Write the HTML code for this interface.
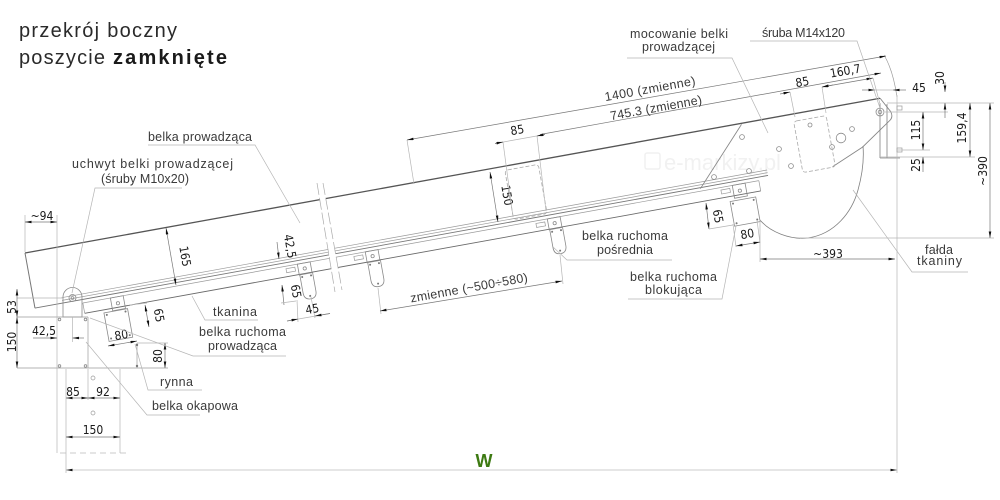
<!DOCTYPE html>
<html><head><meta charset="utf-8">
<style>
html,body{margin:0;padding:0;background:#fff;}
svg{display:block;}
.lb{font-family:"Liberation Sans","DejaVu Sans",sans-serif;font-size:12.5px;fill:#3a3a3a;}
.dm{font-family:"Liberation Sans Narrow","DejaVu Sans Condensed","Liberation Sans",sans-serif;font-size:12px;fill:#1a1a1a;text-anchor:middle;}
.g{stroke:#9a9a9a;stroke-width:.7;fill:none;}
.gl{stroke:#b5b5b5;stroke-width:.7;fill:none;}
.m{stroke:#808080;stroke-width:.8;fill:none;}
.d{stroke:#777;stroke-width:.7;fill:none;marker-start:url(#ar);marker-end:url(#ar);}
.de{stroke:#777;stroke-width:.7;fill:none;marker-end:url(#ar);}
.dot{fill:#777;}
.h{stroke:#8a8a8a;stroke-width:.8;fill:none;}
</style></head><body>
<svg width="1000" height="500" viewBox="0 0 1000 500" xmlns="http://www.w3.org/2000/svg">
<defs>
<marker id="ar" viewBox="0 0 10 4" refX="10" refY="2" markerWidth="7" markerHeight="2.6" markerUnits="userSpaceOnUse" orient="auto-start-reverse"><path d="M0,0 L10,2 L0,4 z" fill="#111"/></marker>
</defs>

<!-- watermark -->
<g opacity="0.9">
<rect x="645" y="153" width="15" height="16" rx="2" fill="none" stroke="#efefef" stroke-width="1.5"/>
<text x="664" y="170" font-family="Liberation Sans, sans-serif" font-size="22" fill="#f0f0f0">e-markizy.pl</text>
</g>

<!-- Title -->
<text x="19" y="37" font-family="Liberation Sans, sans-serif" font-size="20" fill="#2a2a2a" textLength="158" lengthAdjust="spacing">przekrój boczny</text>
<text x="19" y="64" font-family="Liberation Sans, sans-serif" font-size="20" fill="#2a2a2a" textLength="86" lengthAdjust="spacing">poszycie</text>
<text x="113" y="64" font-family="Liberation Sans, sans-serif" font-size="20" font-weight="bold" fill="#1a1a1a" textLength="114" lengthAdjust="spacing">zamknięte</text>

<!-- ===== Beam group (local coords) ===== -->
<g transform="translate(25,253) rotate(-10.26)" fill="none">
  <line x1="0" y1="0" x2="869" y2="0" stroke="#555" stroke-width="1.3"/>
  <line x1="0" y1="0" x2="0" y2="56" stroke="#777" stroke-width="1"/>
  <line x1="0" y1="56" x2="745" y2="56" stroke="#777" stroke-width=".9"/>
  <line x1="28" y1="50.5" x2="745" y2="50.5" class="g"/>
  <line x1="28" y1="53.2" x2="745" y2="53.2" class="g"/>
  <line x1="48" y1="59.5" x2="735" y2="59.5" class="g"/>
  <line x1="48" y1="70" x2="735" y2="70" stroke="#6a6a6a" stroke-width=".9"/>
  <line x1="48" y1="59.5" x2="48" y2="70" class="g"/>
  <line x1="735" y1="59.5" x2="735" y2="70" class="g"/>

  <!-- side plate (mocowanie) -->
  <path d="M676,57 L728,1 M869,0 L877,15 Q879,21 874,24 L843,45 L810,59" stroke="#888" stroke-width=".9"/>

  <!-- bracket 1 + box A -->
  <rect x="76" y="59.5" width="13" height="13" fill="#fff" class="h"/>
  <circle cx="82.5" cy="66" r="1.6" class="h"/>
  <rect x="67" y="73" width="24" height="29" fill="#fff" class="h"/>
  <circle cx="69.5" cy="75.5" r="1" class="dot"/><circle cx="88.5" cy="75.5" r="1" class="dot"/>
  <circle cx="69.5" cy="99.5" r="1" class="dot"/><circle cx="88.5" cy="99.5" r="1" class="dot"/>

  <!-- bracket 2 -->
  <rect x="254" y="62" width="9" height="4" class="g"/>
  <rect x="266" y="59.5" width="13" height="11" fill="#fff" class="h"/>
  <circle cx="272.5" cy="65" r="1.6" class="h"/>
  <path d="M266.5,70.5 L266.5,89 Q266.5,96 273,96 Q279.5,96 279.5,89 L279.5,70.5" fill="#fff" class="h"/>
  <circle cx="268.5" cy="73" r="1" class="dot"/><circle cx="277.5" cy="73" r="1" class="dot"/><circle cx="273" cy="93" r="1" class="dot"/>

  <!-- bracket 3 -->
  <rect x="323" y="62" width="9" height="4" class="g"/>
  <rect x="335" y="59.5" width="13" height="11" fill="#fff" class="h"/>
  <circle cx="341.5" cy="65" r="1.6" class="h"/>
  <path d="M335.5,70.5 L335.5,89 Q335.5,96 342,96 Q348.5,96 348.5,89 L348.5,70.5" fill="#fff" class="h"/>
  <circle cx="337.5" cy="73" r="1" class="dot"/><circle cx="346.5" cy="73" r="1" class="dot"/><circle cx="342" cy="93" r="1" class="dot"/>

  <!-- bracket 4 -->
  <rect x="508" y="62" width="9" height="4" class="g"/>
  <rect x="520" y="59.5" width="13" height="11" fill="#fff" class="h"/>
  <circle cx="526.5" cy="65" r="1.6" class="h"/>
  <path d="M520.5,70.5 L520.5,89 Q520.5,96 527,96 Q533.5,96 533.5,89 L533.5,70.5" fill="#fff" class="h"/>
  <circle cx="522.5" cy="73" r="1" class="dot"/><circle cx="531.5" cy="73" r="1" class="dot"/><circle cx="527" cy="93" r="1" class="dot"/>

  <!-- bracket 5 + box B -->
  <rect x="696" y="62" width="9" height="4" class="g"/>
  <rect x="708" y="59.5" width="13" height="13" fill="#fff" class="h"/>
  <circle cx="714.5" cy="66" r="1.6" class="h"/>
  <rect x="703" y="75" width="26" height="25" fill="#fff" class="h"/>
  <circle cx="705.5" cy="77.5" r="1" class="dot"/><circle cx="726.5" cy="77.5" r="1" class="dot"/>
  <circle cx="705.5" cy="97.5" r="1" class="dot"/><circle cx="726.5" cy="97.5" r="1" class="dot"/>
</g>

<!-- break in beam -->
<polygon points="317,183 323,183 342,290 335,290" fill="#fff"/>
<line x1="317" y1="183" x2="335" y2="292" stroke="#aaa" stroke-width=".7" stroke-dasharray="12 3"/>
<line x1="323" y1="183" x2="342" y2="290" stroke="#aaa" stroke-width=".7" stroke-dasharray="12 3"/>

<!-- plate holes -->
<g class="h">
<circle cx="742" cy="137" r="2.4"/><circle cx="779" cy="149" r="2.4"/><circle cx="749" cy="171" r="2.4"/>
<circle cx="714" cy="177" r="2.4"/><circle cx="791" cy="166" r="2.4"/><circle cx="810" cy="125" r="2"/>
<circle cx="852" cy="129" r="2.4"/><circle cx="832" cy="147" r="2.4"/><circle cx="841" cy="138" r="4.8"/>
<circle cx="880" cy="112" r="4"/><circle cx="880" cy="112" r="1.8"/>
</g>

<!-- hidden dashed brackets -->
<rect x="-17" y="-25" width="34" height="50" rx="3" transform="translate(526,192) rotate(-10.26)" fill="none" stroke="#aaa" stroke-width=".8" stroke-dasharray="4 2"/>
<rect x="-17" y="-26" width="33" height="52" rx="3" transform="translate(815,144) rotate(-10.26)" fill="none" stroke="#aaa" stroke-width=".8" stroke-dasharray="4 2"/>

<!-- fold curve -->
<path d="M760,220 C770,232 790,240 808,238 C835,234 852,212 858,190 C863,172 864,158 863,146" class="m"/>

<!-- right mount -->
<line x1="880" y1="103" x2="880" y2="158" class="m"/>
<line x1="887" y1="104" x2="887" y2="158" class="m"/>
<line x1="880" y1="158" x2="900" y2="158" class="m"/>
<path d="M884,55 Q893,70 897,97" class="g"/>
<line x1="897" y1="95" x2="897" y2="473" class="gl"/>
<rect x="897" y="106" width="5" height="4" class="g"/>
<rect x="897" y="148" width="5" height="4" class="g"/>
<line x1="887" y1="103" x2="994" y2="103" class="gl"/>
<line x1="885" y1="112" x2="948" y2="112" class="gl"/>
<line x1="897" y1="150" x2="930" y2="150" class="gl"/>
<line x1="880" y1="157" x2="975" y2="157" class="gl"/>
<line x1="800" y1="238" x2="994" y2="238" class="gl"/>

<!-- left hinge & mounting -->
<path d="M63,317 L63,297 A9.5,9.5 0 0 1 82,297 L82,317 Z" fill="#fff" class="h"/>
<circle cx="72.5" cy="298" r="3.5" class="h"/><circle cx="72.5" cy="298" r="1.4" class="h"/>
<line x1="17" y1="317" x2="88" y2="317" class="g"/>
<line x1="17" y1="368" x2="168" y2="368" class="g"/>
<line x1="17" y1="298" x2="63" y2="298" class="gl"/>
<line x1="57" y1="215" x2="57" y2="453" class="gl"/>
<line x1="25" y1="215" x2="25" y2="252" class="gl"/>
<line x1="88" y1="317" x2="88" y2="368" class="g"/>
<line x1="137" y1="343" x2="137" y2="368" class="g"/>
<line x1="72.5" y1="317" x2="72.5" y2="342" class="gl"/>
<circle cx="59.5" cy="319.5" r="1.3" class="h"/><circle cx="85.5" cy="319.5" r="1.3" class="h"/>
<circle cx="59.5" cy="366" r="1.3" class="h"/><circle cx="85.5" cy="366" r="1.3" class="h"/>
<circle cx="137" cy="345" r="1.2" class="dot"/><circle cx="137" cy="366" r="1.2" class="dot"/>

<!-- lower beam (okapowa) -->
<line x1="66" y1="369" x2="66" y2="473" class="gl"/>
<line x1="120" y1="369" x2="120" y2="453" class="gl"/>
<line x1="88" y1="369" x2="88" y2="400" class="gl"/>
<line x1="60" y1="453" x2="126" y2="453" stroke="#bbb" stroke-width=".7" stroke-dasharray="6 4"/>
<circle cx="93" cy="378" r="2" class="g"/><circle cx="93" cy="413" r="2" class="g"/>

<!-- ===== Dimensions ===== -->
<line x1="25" y1="222" x2="57" y2="222" class="d"/>
<text class="dm" x="42" y="220">~94</text>

<line x1="17" y1="289" x2="17" y2="317" class="d"/>
<text class="dm" transform="translate(16,307) rotate(-90)">53</text>
<line x1="17" y1="317" x2="17" y2="368" class="d"/>
<text class="dm" transform="translate(16,342) rotate(-90)">150</text>

<line x1="33" y1="338" x2="57" y2="338" class="de"/>
<line x1="84" y1="338" x2="72.5" y2="338" class="de"/>
<text class="dm" x="44" y="335">42,5</text>

<line x1="166" y1="228" x2="176" y2="285" class="d"/>
<text class="dm" transform="translate(181,257) rotate(80)">165</text>

<line x1="145" y1="305" x2="149" y2="327" class="d"/>
<line x1="130" y1="305" x2="147" y2="303" class="gl"/>
<text class="dm" transform="translate(155,316) rotate(80)">65</text>

<line x1="108" y1="346" x2="137" y2="341" class="d"/>
<text class="dm" transform="translate(122,339) rotate(-10)">80</text>
<line x1="137" y1="343" x2="168" y2="343" class="gl"/>
<line x1="165" y1="343" x2="165" y2="368" class="d"/>
<text class="dm" transform="translate(162,356) rotate(-90)">80</text>

<line x1="66" y1="398" x2="88" y2="398" class="d"/>
<line x1="88" y1="398" x2="120" y2="398" class="d"/>
<text class="dm" x="73" y="396">85</text>
<text class="dm" x="103" y="396">92</text>
<line x1="66" y1="437" x2="120" y2="437" class="d"/>
<text class="dm" x="93" y="434">150</text>

<line x1="277" y1="242" x2="279" y2="259" class="de"/>
<text class="dm" transform="translate(286,247) rotate(80)">42,5</text>
<line x1="284" y1="305" x2="282" y2="285" class="de"/>
<line x1="281" y1="303" x2="296" y2="301" class="gl"/>
<text class="dm" transform="translate(292,292) rotate(80)">65</text>

<line x1="297" y1="300" x2="298" y2="322" class="gl"/>
<line x1="311" y1="297" x2="315" y2="318" class="gl"/>
<line x1="287" y1="321" x2="330" y2="313.5" class="gl"/>
<line x1="287" y1="321" x2="298" y2="319" class="de"/>
<line x1="330" y1="313.5" x2="315" y2="316" class="de"/>
<text class="dm" transform="translate(313,313) rotate(-10)">45</text>

<line x1="490" y1="172" x2="498" y2="222" class="d"/>
<text class="dm" transform="translate(503,196) rotate(80)">150</text>

<line x1="378" y1="288" x2="381" y2="314" class="gl"/>
<line x1="560" y1="255" x2="563" y2="284" class="gl"/>
<line x1="380" y1="311" x2="562" y2="281" class="d"/>
<text class="lb" transform="translate(469,288) rotate(-10.26)" x="0" y="4" text-anchor="middle" textLength="119" lengthAdjust="spacing">zmienne (~500÷580)</text>

<!-- 1400 / 745.3 -->
<line x1="407" y1="140" x2="414" y2="184" class="gl"/>
<line x1="407" y1="140" x2="886" y2="56" class="d"/>
<text class="lb" transform="translate(650,89) rotate(-10.26)" x="0" y="4" text-anchor="middle" textLength="92" lengthAdjust="spacing">1400 (zmienne)</text>
<line x1="540" y1="134.5" x2="881" y2="73" class="de"/>
<text class="lb" transform="translate(656,108) rotate(-10.26)" x="0" y="4" text-anchor="middle" textLength="93" lengthAdjust="spacing">745.3 (zmienne)</text>

<line x1="503" y1="142" x2="513" y2="217" class="gl"/>
<line x1="537" y1="136" x2="546" y2="211" class="gl"/>
<line x1="495" y1="143.5" x2="545" y2="134.5" class="gl"/>
<line x1="495" y1="143.5" x2="503" y2="142" class="de"/>
<line x1="545" y1="134.5" x2="537" y2="136" class="de"/>
<text class="dm" transform="translate(518,134) rotate(-10)">85</text>

<line x1="790" y1="92" x2="795" y2="117" class="gl"/>
<line x1="822" y1="87" x2="826" y2="113" class="gl"/>
<line x1="873" y1="78" x2="880" y2="104" class="gl"/>
<line x1="780" y1="94" x2="790" y2="92" class="de"/>
<line x1="833" y1="85" x2="822" y2="87" class="de"/>
<line x1="822" y1="87" x2="873" y2="78" class="d"/>
<text class="dm" transform="translate(803,86) rotate(-10)">85</text>
<text class="dm" transform="translate(846,75) rotate(-10)">160,7</text>

<line x1="862" y1="90" x2="875" y2="90" class="de"/>
<line x1="906" y1="90" x2="893" y2="90" class="de"/>
<line x1="875" y1="90" x2="893" y2="90" class="gl"/>
<text class="dm" x="919" y="92">45</text>

<line x1="945" y1="82" x2="945" y2="92" class="de"/>
<line x1="945" y1="118" x2="945" y2="103" class="de"/>
<text class="dm" transform="translate(944,78) rotate(-90)">30</text>

<line x1="923" y1="112" x2="923" y2="150" class="d"/>
<text class="dm" transform="translate(920,130) rotate(-90)">115</text>
<line x1="923" y1="172" x2="923" y2="157" class="de"/>
<text class="dm" transform="translate(920,165) rotate(-90)">25</text>

<line x1="970" y1="103" x2="970" y2="157" class="d"/>
<text class="dm" transform="translate(966,128) rotate(-90)">159,4</text>

<line x1="990" y1="103" x2="990" y2="238" class="d"/>
<text class="dm" transform="translate(987,171) rotate(-90)">~390</text>

<line x1="760" y1="220" x2="760" y2="262" class="gl"/>
<line x1="760" y1="259" x2="895" y2="259" class="d"/>
<text class="dm" x="828" y="258">~393</text>

<line x1="706" y1="203" x2="709" y2="229" class="d"/>
<line x1="709" y1="229" x2="733" y2="225" class="gl"/>
<text class="dm" transform="translate(714,217) rotate(80)">65</text>
<line x1="733" y1="224" x2="736" y2="247" class="gl"/>
<line x1="757" y1="220" x2="760" y2="243" class="gl"/>
<line x1="736" y1="246" x2="760" y2="242" class="d"/>
<text class="dm" transform="translate(748,238) rotate(-10)">80</text>

<!-- W -->
<line x1="66" y1="470" x2="897" y2="470" stroke="#bbb" stroke-width=".8" marker-start="url(#ar)" marker-end="url(#ar)"/>
<text x="484" y="467" font-family="Liberation Sans, sans-serif" font-size="18" font-weight="bold" fill="#3d7a12" text-anchor="middle">W</text>

<!-- ===== Leaders & labels ===== -->
<polyline points="148,145 255,145 300,223" class="gl"/>
<text class="lb" x="148" y="141" textLength="104" lengthAdjust="spacing">belka prowadząca</text>

<polyline points="182,188 95,188 72,293" class="gl"/>
<text class="lb" x="72" y="168" textLength="161" lengthAdjust="spacing">uchwyt belki prowadzącej</text>
<text class="lb" x="101" y="183" textLength="88" lengthAdjust="spacing">(śruby M10x20)</text>

<polyline points="258,320 205,320 192,296" class="gl"/>
<text class="lb" x="213" y="316" textLength="44" lengthAdjust="spacing">tkanina</text>

<polyline points="286,356 193,356 90,318" class="gl"/>
<text class="lb" x="199" y="336" textLength="87" lengthAdjust="spacing">belka ruchoma</text>
<text class="lb" x="208" y="350" textLength="69" lengthAdjust="spacing">prowadząca</text>

<polyline points="202,390 148,390 135,344" class="gl"/>
<text class="lb" x="160" y="386" textLength="33" lengthAdjust="spacing">rynna</text>

<polyline points="200,415 147,415 86,342" class="gl"/>
<text class="lb" x="152" y="410" textLength="86" lengthAdjust="spacing">belka okapowa</text>

<polyline points="672,260 567,260 553,247" class="gl"/>
<text class="lb" x="582" y="240" textLength="86" lengthAdjust="spacing">belka ruchoma</text>
<text class="lb" x="597" y="254" textLength="56" lengthAdjust="spacing">pośrednia</text>

<polyline points="628,299 722,299 736,226" class="gl"/>
<text class="lb" x="630" y="281" textLength="87" lengthAdjust="spacing">belka ruchoma</text>
<text class="lb" x="645" y="294" textLength="57" lengthAdjust="spacing">blokująca</text>

<polyline points="968,272 912,272 853,190" class="gl"/>
<text class="lb" x="925" y="254" textLength="28" lengthAdjust="spacing">fałda</text>
<text class="lb" x="917" y="265" textLength="45" lengthAdjust="spacing">tkaniny</text>

<polyline points="627,58 732,58 768,133" class="gl"/>
<text class="lb" x="630" y="38" textLength="98" lengthAdjust="spacing">mocowanie belki</text>
<text class="lb" x="642" y="51" textLength="73" lengthAdjust="spacing">prowadzącej</text>

<polyline points="750,41 857,41 880,108" class="gl"/>
<text class="lb" x="762" y="37" textLength="83" lengthAdjust="spacing">śruba M14x120</text>
</svg>
</body></html>
